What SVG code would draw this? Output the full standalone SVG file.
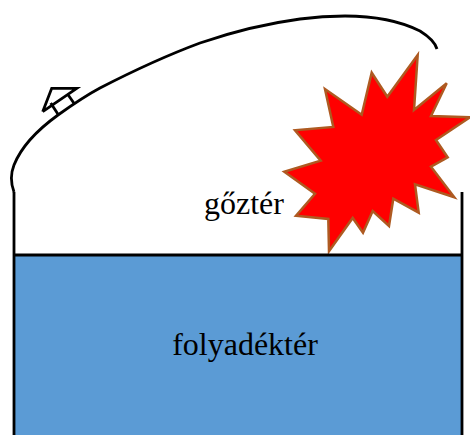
<svg xmlns="http://www.w3.org/2000/svg" width="470" height="435" viewBox="0 0 470 435">
<style>
.l{fill:none;stroke:#000;stroke-width:2.8}
.t{font-family:"Liberation Serif","Times New Roman",serif;font-size:32px;fill:#000}
</style>
<rect width="470" height="435" fill="#fff"/>
<g id="liquid">
<rect x="14" y="255" width="448" height="180" fill="#5B9BD5"/>
<text class="t" x="245" y="355" text-anchor="middle">folyadéktér</text>
</g>
<g id="explosion">
<polygon points="417.7,55 414,110 446.7,83.3 431,116 470,117.3 436,140 447.7,157.3 431,166.7 454.3,197.3 415,184.3 418.7,212.7 393.3,198.7 389,226 372.7,211 363,232.7 352.7,218 329,251.3 328.3,219 296,215.7 315,193.7 284.3,171.7 320.7,160.7 295,130.3 333.3,127 325,89 361.7,114.7 371.7,72.7 387.3,96.7" fill="#FF0000" stroke="#AE5A21" stroke-width="2.5"/>
</g>
<g id="vapor">
<text class="t" x="244" y="214" text-anchor="middle">gőztér</text>
</g>
<g id="connectors">
<path class="l" d="M14,435V192M462,435V192M14,255H462"/>
<path class="l" d="M14,192C11,184 10,175 14,165C22,145 40,128 58,115C72,105 85,96 100,88C133,71 165,56 200,43C235,31 270,23 300,19C315,17 328,16 345,16C375,16 400,21 420,31C428,36 435,42 437,49"/>
<path class="l" d="M58.5,115L50.7,103M42.7,111.7L51.7,88.3H76.7L42.7,111.7M74.5,104L67.2,93.5"/>
</g>
</svg>
